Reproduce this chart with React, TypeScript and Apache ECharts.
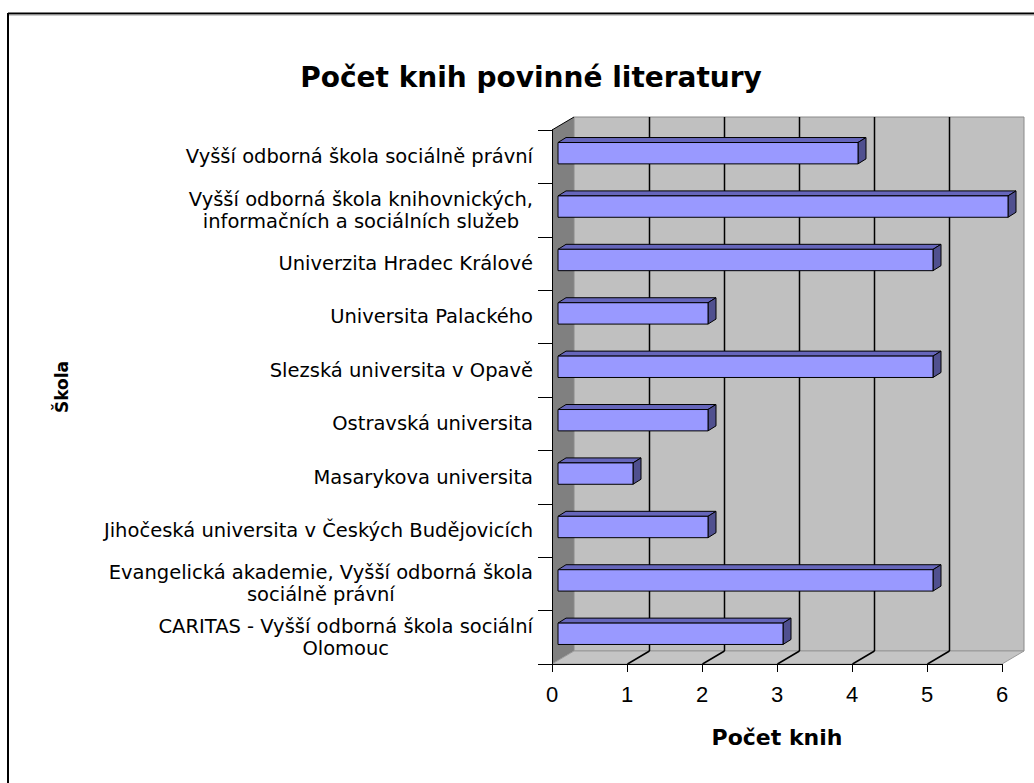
import React, { useEffect, useRef } from "react";
import * as echarts from "echarts";

const chartTitle = "Počet knih povinné literatury";
const xAxisTitle = "Počet knih";
const yAxisTitle = "Škola";

const categories = [
  "Vyšší odborná škola sociálně právní",
  "Vyšší odborná škola knihovnických,\ninformačních a sociálních služeb",
  "Univerzita Hradec Králové",
  "Universita Palackého",
  "Slezská universita v Opavě",
  "Ostravská universita",
  "Masarykova universita",
  "Jihočeská universita v Českých Budějovicích",
  "Evangelická akademie, Vyšší odborná škola\nsociálně právní",
  "CARITAS - Vyšší odborná škola sociální\nOlomouc",
];
const bookCounts = [4, 6, 5, 2, 5, 2, 1, 2, 5, 3];
const valueMin = 0;
const valueMax = 6;
const valueStep = 1;

const WALL_DX = 22;
const WALL_DY = -13;
const BAR_FX = 6;
const BAR_FY = -3.5;
const BAR_DX = 8;
const BAR_DY = -5;

export default function App() {
  const ref = useRef<HTMLDivElement>(null);
  useEffect(() => {
    if (!ref.current) return;
    const chart = echarts.init(ref.current, null, { renderer: "svg" });

    const barData = bookCounts.map((v, i) => [v, i]);

    const option: any = {
      animation: false,
      backgroundColor: "#ffffff",
      title: {
        text: chartTitle,
        left: 526,
        textAlign: "center",
        top: 58,
        textStyle: {
          fontFamily: "DejaVu Sans",
          fontWeight: "bold",
          fontSize: 28,
          color: "#000",
        },
      },
      grid: {
        left: 552,
        top: 130,
        width: 450,
        height: 534,
        containLabel: false,
        outerBoundsMode: "none",
      },
      xAxis: {
        type: "value",
        min: valueMin,
        max: valueMax,
        interval: valueStep,
        z: 5,
        name: xAxisTitle,
        nameLocation: "middle",
        nameGap: 62,
        nameMoveOverlap: false,
        nameTextStyle: {
          fontFamily: "DejaVu Sans",
          fontWeight: "bold",
          fontSize: 22,
          color: "#000",
        },
        axisLine: { show: true, lineStyle: { color: "#000", width: 1 } },
        axisTick: { show: true, length: 8, lineStyle: { color: "#000" } },
        splitLine: { show: false },
        axisLabel: {
          margin: 19,
          fontFamily: "Liberation Sans",
          fontSize: 22,
          color: "#000",
        },
      },
      yAxis: {
        type: "category",
        data: categories,
        inverse: true,
        z: 5,
        name: yAxisTitle,
        nameLocation: "middle",
        nameRotate: 90,
        nameGap: 482,
        nameMoveOverlap: false,
        nameTextStyle: {
          fontFamily: "DejaVu Sans",
          fontWeight: "bold",
          fontSize: 17,
          color: "#000",
          padding: [0, 0, 0, 20],
        },
        axisLine: { show: true, lineStyle: { color: "#000", width: 1 } },
        axisTick: { show: true, length: 14, lineStyle: { color: "#000" } },
        splitLine: { show: false },
        axisLabel: {
          margin: 19,
          interval: 0,
          formatter: (val: string) =>
            val
              .split("\n")
              .map((l) => `{c|${l}}`)
              .join("\n"),
          rich: {
            c: {
              align: "center",
              fontFamily: "DejaVu Sans",
              fontSize: 19.5,
              lineHeight: 22,
              color: "#000",
            },
          },
        },
      },
      graphic: [
        {
          type: "line",
          shape: { x1: 8, y1: 13.5, x2: 1034, y2: 13.5 },
          style: { stroke: "#000", lineWidth: 2 },
        },
        {
          type: "line",
          shape: { x1: 8, y1: 15, x2: 1034, y2: 15 },
          style: { stroke: "#9a9a9a", lineWidth: 1 },
        },
        {
          type: "line",
          shape: { x1: 8, y1: 13, x2: 8, y2: 783 },
          style: { stroke: "#000", lineWidth: 2 },
        },
      ],
      series: [
        {
          type: "custom",
          name: "walls",
          z: 1,
          silent: true,
          data: [[0, 0]],
          encode: { x: 0, y: 1 },
          renderItem: (params: any, api: any) => {
            const cs = params.coordSys;
            const x0 = cs.x;
            const x1 = cs.x + cs.width;
            const yT = cs.y;
            const yB = cs.y + cs.height;
            const children: any[] = [];
            children.push({
              type: "polygon",
              shape: {
                points: [
                  [x0, yT],
                  [x0 + WALL_DX, yT + WALL_DY],
                  [x0 + WALL_DX, yB + WALL_DY],
                  [x0, yB],
                ],
              },
              style: { fill: "#808080" },
            });
            children.push({
              type: "rect",
              shape: {
                x: x0 + WALL_DX,
                y: yT + WALL_DY,
                width: cs.width,
                height: cs.height,
              },
              style: { fill: "#C0C0C0", stroke: "#8a8a8a", lineWidth: 1 },
            });
            children.push({
              type: "polygon",
              shape: {
                points: [
                  [x0, yB],
                  [x0 + WALL_DX, yB + WALL_DY],
                  [x1 + WALL_DX, yB + WALL_DY],
                  [x1, yB],
                ],
              },
              style: { fill: "#C4C4C4", stroke: "#9a9a9a", lineWidth: 1 },
            });
            for (let k = valueMin + valueStep; k < valueMax; k += valueStep) {
              const x = Math.round(api.coord([k, 0])[0]) + 0.5;
              children.push({
                type: "line",
                shape: {
                  x1: x + WALL_DX,
                  y1: yT + WALL_DY,
                  x2: x + WALL_DX,
                  y2: yB + WALL_DY,
                },
                style: { stroke: "#000", lineWidth: 1.5 },
              });
              children.push({
                type: "line",
                shape: { x1: x, y1: yB, x2: x + WALL_DX, y2: yB + WALL_DY },
                style: { stroke: "#000", lineWidth: 1.5 },
              });
            }
            children.push({
              type: "line",
              shape: { x1: x0, y1: yT, x2: x0 + WALL_DX, y2: yT + WALL_DY },
              style: { stroke: "#000", lineWidth: 1 },
            });
            return { type: "group", children };
          },
        },
        {
          type: "custom",
          name: "Počet knih",
          z: 2,
          data: barData,
          encode: { x: 0, y: 1 },
          renderItem: (params: any, api: any) => {
            const v = api.value(0);
            const idx = api.value(1);
            const [xv, c] = api.coord([v, idx]);
            const [xz] = api.coord([0, idx]);
            const band = api.size([0, 1])[1];
            const xl = xz + BAR_FX;
            const xr = xv + BAR_FX;
            const yt = c - band * 0.2 + BAR_FY;
            const yb = c + band * 0.2 + BAR_FY;
            const edge = { stroke: "#000", lineWidth: 1 };
            return {
              type: "group",
              children: [
                {
                  type: "polygon",
                  shape: {
                    points: [
                      [xl, yt],
                      [xl + BAR_DX, yt + BAR_DY],
                      [xr + BAR_DX, yt + BAR_DY],
                      [xr, yt],
                    ],
                  },
                  style: { fill: "#6666BB", ...edge },
                },
                {
                  type: "polygon",
                  shape: {
                    points: [
                      [xr, yt],
                      [xr + BAR_DX, yt + BAR_DY],
                      [xr + BAR_DX, yb + BAR_DY],
                      [xr, yb],
                    ],
                  },
                  style: { fill: "#50508F", ...edge },
                },
                {
                  type: "rect",
                  shape: { x: xl, y: yt, width: xr - xl, height: yb - yt },
                  style: { fill: "#9999FF", ...edge },
                },
              ],
            };
          },
        },
      ],
    };

    chart.setOption(option);
    return () => chart.dispose();
  }, []);

  return (
    <div
      ref={ref}
      style={{
        position: "fixed",
        left: 0,
        top: 0,
        width: 1034,
        height: 783,
        background: "#fff",
      }}
    />
  );
}
